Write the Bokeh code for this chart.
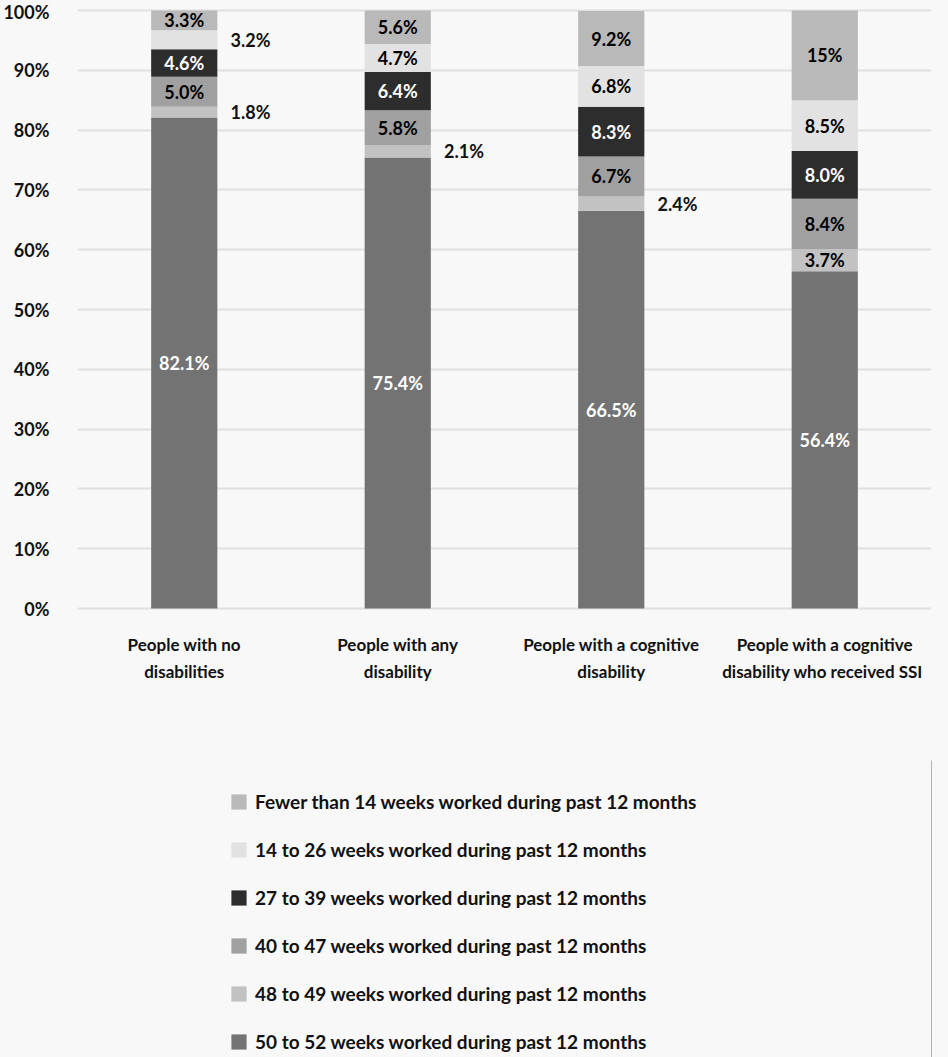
from bokeh.plotting import figure
from bokeh.layouts import column
from bokeh.models import ColumnDataSource, Legend, LegendItem, FactorRange, Range1d, FixedTicker
from bokeh.transform import dodge
from bokeh.core.properties import value
from bokeh.embed import file_html
from bokeh.resources import INLINE

# ---- data ----
categories = [
    "People with no\ndisabilities",
    "People with any\ndisability",
    "People with a cognitive\ndisability",
    "People with a cognitive\ndisability who received  SSI",
]
series_names = [
    "50 to 52 weeks worked during past 12 months",
    "48 to 49 weeks worked during past 12 months",
    "40 to 47 weeks worked during past 12 months",
    "27 to 39 weeks worked during past 12 months",
    "14 to 26 weeks worked during past 12 months",
    "Fewer than 14 weeks worked during past 12 months",
]
w50_52 = [82.1, 75.4, 66.5, 56.4]
w48_49 = [1.8, 2.1, 2.4, 3.7]
w40_47 = [5.0, 5.8, 6.7, 8.4]
w27_39 = [4.6, 6.4, 8.3, 8.0]
w14_26 = [3.2, 4.7, 6.8, 8.5]
w_lt14 = [3.3, 5.6, 9.2, 15.0]
lt14_labels = ["3.3%", "5.6%", "9.2%", "15%"]
y_ticks = [0, 10, 20, 30, 40, 50, 60, 70, 80, 90, 100]
# labels placed beside the bar (True) instead of inside it
outside_48_49 = [True, True, True, False]
outside_14_26 = [True, False, False, False]

colors = ["#737373", "#c2c2c2", "#a0a0a0", "#2d2d2d", "#e2e2e2", "#b9b9b9"]
label_colors = ["white", "black", "black", "white", "black", "black"]
keys = ["s0", "s1", "s2", "s3", "s4", "s5"]
series = [w50_52, w48_49, w40_47, w27_39, w14_26, w_lt14]

FONT = "Lato"
BG = "#f8f8f8"
TXT = "#111111"

data = {"cat": categories}
for k, s in zip(keys, series):
    data[k] = s
src = ColumnDataSource(data)

p = figure(
    x_range=FactorRange(*categories),
    y_range=Range1d(-0.5, 100.5),
    width=948, height=760,
    output_backend="svg", toolbar_location=None,
    min_border_left=76, min_border_right=17, min_border_top=7,
    min_border_bottom=149,
    background_fill_color=BG, border_fill_color=BG,
    outline_line_color=None,
)

renderers = p.vbar_stack(keys, x="cat", width=0.31, source=src,
                         color=colors, line_color=None)

# ---- segment labels ----
ins_x, ins_y, ins_t, ins_c = [], [], [], []
out_x, out_y, out_t = [], [], []
base = [0.0] * len(categories)
for si, s in enumerate(series):
    for ci, v in enumerate(s):
        mid = base[ci] + v / 2
        txt = lt14_labels[ci] if si == 5 else f"{v:.1f}%"
        outside = (si == 1 and outside_48_49[ci]) or (si == 4 and outside_14_26[ci])
        if outside:
            out_x.append(categories[ci]); out_y.append(mid); out_t.append(txt)
        else:
            ins_x.append(categories[ci]); ins_y.append(mid); ins_t.append(txt); ins_c.append(label_colors[si])
        base[ci] += v

ins_src = ColumnDataSource(dict(x=ins_x, y=ins_y, t=ins_t, c=ins_c))
p.text(x="x", y="y", text="t", source=ins_src, text_color="c",
       text_font=value(FONT), text_font_style="bold", text_font_size="18px",
       text_align="center", text_baseline="middle")
out_src = ColumnDataSource(dict(x=out_x, y=out_y, t=out_t))
p.text(x=dodge("x", 0.31, range=p.x_range), y="y", text="t", source=out_src,
       text_color=TXT,
       text_font=value(FONT), text_font_style="bold", text_font_size="18px",
       text_align="center", text_baseline="middle")

# ---- axes ----
p.yaxis.ticker = FixedTicker(ticks=y_ticks)
p.yaxis.major_label_overrides = {t: f"{t}%" for t in y_ticks}
p.yaxis.axis_line_color = None
p.yaxis.major_tick_line_color = None
p.yaxis.minor_tick_line_color = None
p.yaxis.major_label_standoff = 22
p.yaxis.major_label_text_font = FONT
p.yaxis.major_label_text_font_style = "bold"
p.yaxis.major_label_text_font_size = "18px"
p.yaxis.major_label_text_color = TXT

p.xaxis.axis_line_color = None
p.xaxis.major_tick_line_color = None
p.xaxis.major_label_standoff = 16
p.xaxis.major_label_text_font = FONT
p.xaxis.major_label_text_font_style = "bold"
p.xaxis.major_label_text_font_size = "17px"
p.xaxis.major_label_text_color = TXT
p.xaxis.major_label_text_line_height = 1.3

p.xgrid.grid_line_color = None
p.ygrid.grid_line_color = "#e0e0e0"
p.ygrid.grid_line_width = 2

# ---- legend (separate strip below the chart) ----
lg = figure(width=948, height=297, output_backend="svg", toolbar_location=None,
            x_range=Range1d(0, 1), y_range=Range1d(0, 1),
            x_axis_location=None, y_axis_location=None,
            min_border=0, background_fill_color=None, border_fill_color=None,
            outline_line_color=None)
lg.grid.visible = False
swatches = []
for i in range(6):
    r = lg.vbar(x=[5.0], top=[1.0], width=0.1, color=colors[i], line_color=None)
    swatches.append(r)
items = [LegendItem(label=series_names[i], renderers=[swatches[i]]) for i in range(5, -1, -1)]
legend = Legend(items=items, location=(152, 4), orientation="vertical",
                glyph_width=19, glyph_height=19, label_height=19,
                spacing=25, label_standoff=7, padding=0, margin=0,
                label_text_font=FONT, label_text_font_style="bold",
                label_text_font_size="19px", label_text_color=TXT,
                background_fill_alpha=0, border_line_color=None)
lg.add_layout(legend)

layout = column(p, lg, spacing=0, styles={"background-color": BG})
open("out.html", "w").write(file_html(layout, INLINE))
